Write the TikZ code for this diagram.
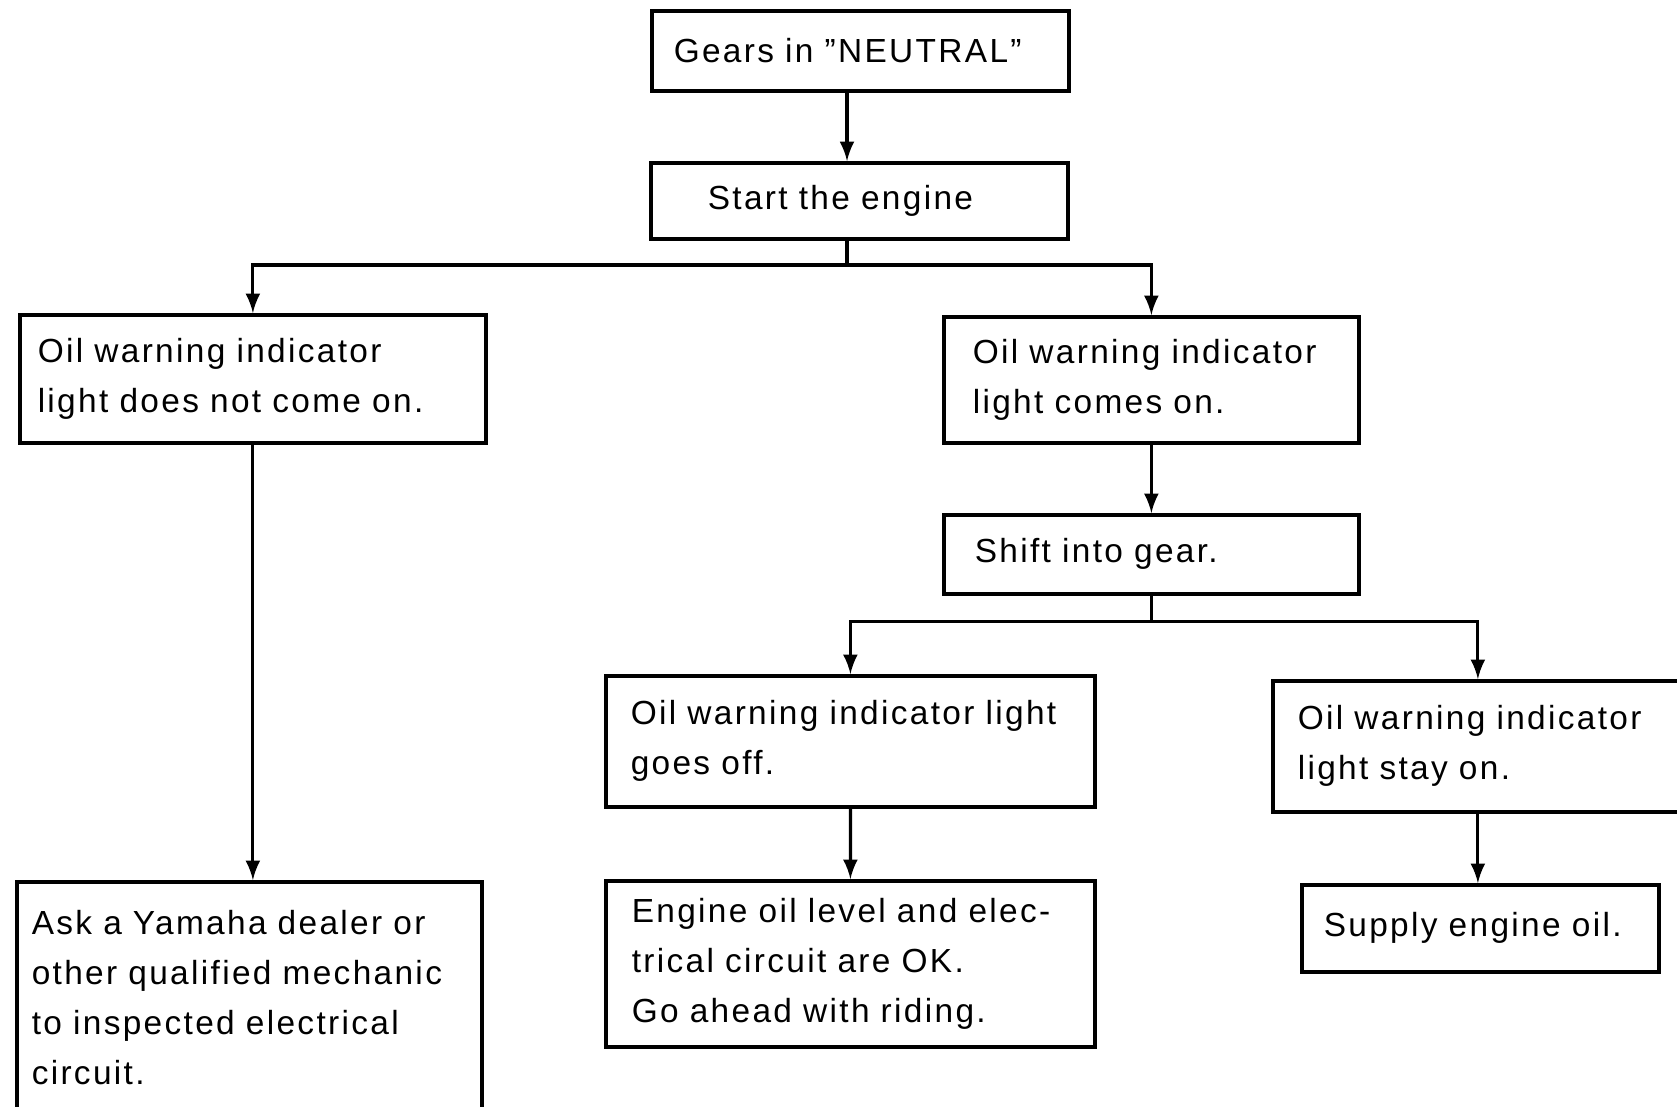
\documentclass[tikz,border=0pt]{standalone}
\usepackage{fontspec}
\setmainfont{Liberation Sans}[LetterSpace=7.0]
\usetikzlibrary{calc}

\begin{document}
\begin{tikzpicture}[x=0.01cm,y=-0.01cm,
    box/.style={draw, line width=1pt, anchor=north west, align=left,
      inner ysep=0pt, font=\fontsize{9.5}{14.2}\selectfont},
    link/.style={line width=0.9pt,-latex}]
    \useasboundingbox (0,0) rectangle (1677,1107);
    % boxes
    \node[box, text width=3.73cm, inner xsep=0.22cm, minimum height=0.80cm] (gears) at (650,9) {Gears in ''NEUTRAL''};
    \node[box, text width=3.03cm, inner xsep=0.57cm, minimum height=0.76cm] (start) at (649,161) {Start the engine};
    \node[box, text width=4.30cm, inner xsep=0.18cm, minimum height=1.28cm] (left1) at (18,313) {Oil warning indicator\\light does not come on.};
    \node[box, text width=3.57cm, inner xsep=0.29cm, minimum height=1.26cm] (right1) at (942,315) {Oil warning indicator\\light comes on.};
    \node[box, text width=3.53cm, inner xsep=0.31cm, minimum height=0.79cm] (shift) at (942,513) {Shift into gear.};
    \node[box, text width=4.39cm, inner xsep=0.25cm, minimum height=1.31cm] (off) at (604,674) {Oil warning indicator light\\goes off.};
    \node[box, text width=3.60cm, inner xsep=0.25cm, minimum height=1.31cm] (stay) at (1271,679) {Oil warning indicator\\light stay on.};
    \node[box, text width=4.35cm, inner xsep=0.15cm, minimum height=2.32cm] (ask) at (15,880) {Ask a Yamaha dealer or\\other qualified mechanic\\to inspected electrical\\circuit.};
    \node[box, text width=4.37cm, inner xsep=0.26cm, minimum height=1.66cm] (ok) at (604,879) {Engine oil level and elec-\\trical circuit are OK.\\Go ahead with riding.};
    \node[box, text width=3.13cm, inner xsep=0.22cm, minimum height=0.87cm] (supply) at (1300,883) {Supply engine oil.};

    % connectors
    \coordinate (fork1) at (847,265);
    \coordinate (fork2) at ($(shift.south)+(0,26)$);
    \draw[link] (gears.south -| fork1) -- (start.north -| fork1);
    \draw[line width=0.9pt] (start.south -| fork1) -- (fork1);
    \draw[link] (fork1) -| (left1.north);
    \draw[link] (fork1) -| (right1.north);
    \draw[link] (right1) -- (shift);
    \draw[line width=0.9pt] (shift.south) -- (fork2);
    \draw[link] (fork2) -| (off.north);
    \draw[link] (fork2) -| (stay.north);
    \draw[link] (left1.south) -- (left1.south |- ask.north);
    \draw[link] (off) -- (ok);
    \draw[link] (stay.south) -- (stay.south |- supply.north);
\end{tikzpicture}
\end{document}
